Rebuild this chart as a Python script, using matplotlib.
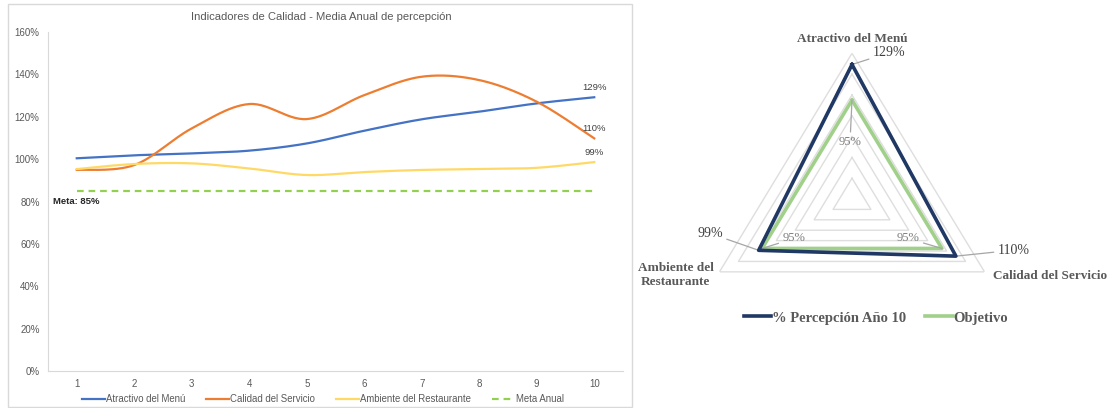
import numpy as np
import matplotlib
matplotlib.use('Agg')
import matplotlib.pyplot as plt
from matplotlib.patches import Rectangle
from matplotlib.ticker import FuncFormatter

# data
years = [1, 2, 3, 4, 5, 6, 7, 8, 9, 10]
atractivo = [1.004, 1.018, 1.027, 1.040, 1.074, 1.134, 1.188, 1.224, 1.263, 1.292]
calidad = [0.949, 0.972, 1.145, 1.260, 1.189, 1.302, 1.389, 1.373, 1.271, 1.098]
ambiente = [0.953, 0.977, 0.980, 0.956, 0.925, 0.939, 0.949, 0.953, 0.959, 0.986]
meta = 0.85

radar_cats = ['Atractivo del Menú', 'Calidad del Servicio', 'Ambiente del\nRestaurante']
radar_actual = [atractivo[-1], calidad[-1], ambiente[-1]]
radar_obj = [0.95, 0.95, 0.95]
radar_rings = [0.2, 0.4, 0.6, 0.8, 1.0, 1.2, 1.4]

W, H = 1120, 408


def fx(px):
    return px / W


def fy(py):
    return 1 - py / H


def excel_smooth(x, y, n=30):
    # bezier smoothing like excel "smoothed line"
    pts = np.column_stack([x, y]).astype(float)
    P = np.vstack([pts[0], pts, pts[-1]])
    out = []
    t = np.linspace(0, 1, n)[:, None]
    for i in range(1, len(P) - 2):
        p0, p1, p2, p3 = P[i - 1], P[i], P[i + 1], P[i + 2]
        c1 = p1 + (p2 - p0) / 6
        c2 = p2 - (p3 - p1) / 6
        seg = (1 - t)**3 * p1 + 3 * (1 - t)**2 * t * c1 + 3 * (1 - t) * t**2 * c2 + t**3 * p2
        out.append(seg if i == 1 else seg[1:])
    return np.vstack(out)


plt.rcParams['font.family'] = ['Liberation Sans', 'DejaVu Sans']
fig = plt.figure(figsize=(11.2, 4.08), dpi=100)

# left chart frame
fig.patches.append(Rectangle((fx(8), fy(407)), fx(632 - 8), (407 - 4) / H,
                             transform=fig.transFigure, fill=False,
                             edgecolor='#D9D9D9', linewidth=1))

ax = fig.add_axes([fx(48), fy(371), fx(623 - 48), (371 - 32) / H])
series = [(atractivo, '#4472C4', 'Atractivo del Menú'),
          (calidad, '#ED7D31', 'Calidad del Servicio'),
          (ambiente, '#FFD966', 'Ambiente del Restaurante')]
for vals, col, lab in series:
    s = excel_smooth(years, vals)
    ax.plot(s[:, 0], s[:, 1], color=col, lw=1.6, label=lab)
    ax.annotate('{:.0%}'.format(vals[-1]), (years[-1], vals[-1]), xytext=(0, 10),
                textcoords='offset pixels', ha='center', va='center',
                fontsize=6.8, color='#404040')
ax.plot(years, [meta] * len(years), color='#92D050', lw=1.6, ls=(0, (3, 2.2)),
        label='Meta Anual')
ax.text(0.58, 0.80, 'Meta: {:.0%}'.format(meta), fontsize=6.8, fontweight='bold',
        color='#262626', ha='left', va='center')

ax.set_xlim(0.5, 10.5)
ax.set_ylim(0, 1.6)
ax.set_xticks(years)
ax.set_yticks(np.arange(0, 1.61, 0.2))
ax.yaxis.set_major_formatter(FuncFormatter(lambda v, p: '{:.0%}'.format(v)))
ax.tick_params(length=0, labelsize=7, colors='#595959', pad=6)
for sp in ['top', 'right']:
    ax.spines[sp].set_visible(False)
for sp in ['left', 'bottom']:
    ax.spines[sp].set_color('#D9D9D9')
fig.text(fx(321), fy(17), 'Indicadores de Calidad - Media Anual de percepción',
         ha='center', va='center', fontsize=8.1, color='#595959')
fig.legend(loc='center', bbox_to_anchor=(fx(323), fy(399)), ncol=4, frameon=False,
           fontsize=6.9, handlelength=2.4, handletextpad=0.1, columnspacing=2.2,
           labelcolor='#595959')

# radar chart
serif = ['Liberation Serif', 'DejaVu Serif']
rx = fig.add_axes([fx(852 - 153), fy(199 + 145.7), fx(306), 291.4 / H], projection='polar')
rx.set_aspect('auto')
rx.set_theta_offset(np.pi / 2)
rx.set_theta_direction(-1)
theta = np.array([0, 2 * np.pi / 3, 4 * np.pi / 3])
tc = np.append(theta, theta[0])
for r in radar_rings:
    rx.plot(tc, [r] * 4, color='#DEDEDE', lw=1, zorder=1)
rx.plot(tc, radar_obj + radar_obj[:1], color='#A0D08A', lw=2.6, zorder=3, label='Objetivo')
rx.plot(tc, radar_actual + radar_actual[:1], color='#1F3864', lw=2.6, zorder=4,
        label='% Percepción Año 10')
rx.set_ylim(0, 1.4)
rx.set_xticks([])
rx.set_yticks([])
rx.grid(False)
rx.spines['polar'].set_visible(False)
rx.patch.set_alpha(0)

lead = dict(arrowstyle='-', color='#A6A6A6', lw=0.9, shrinkA=1, shrinkB=0)
act_off = [((21, 12), 'left'), ((42, 6), 'left'), ((-36, 17), 'right')]
for th, v, (off, ha) in zip(theta, radar_actual, act_off):
    rx.annotate('{:.0%}'.format(v), (th, v), xytext=off, textcoords='offset pixels',
                ha=ha, va='center', fontsize=10, color='#404040', family=serif,
                arrowprops=lead)
obj_off = [(-2, -42), (-34, 10), (32, 10)]
for th, v, off in zip(theta, radar_obj, obj_off):
    rx.annotate('{:.0%}'.format(v), (th, v), xytext=off, textcoords='offset pixels',
                ha='center', va='center', fontsize=9, color='#7F7F7F', family=serif,
                arrowprops=lead)
cat_off = [((0, 14), 'center'), ((8, -4), 'left'), ((-6, -3), 'right')]
for th, lab, (off, ha) in zip(theta, radar_cats, cat_off):
    rx.annotate(lab, (th, 1.4), xytext=off, textcoords='offset pixels', ha=ha,
                va='center', multialignment='center', fontsize=9.5, fontweight='bold',
                color='#595959', family=serif)

h, l = rx.get_legend_handles_labels()
fig.legend(h[::-1], l[::-1], loc='center', bbox_to_anchor=(fx(876), fy(318)), ncol=2,
           frameon=False, prop={'family': serif, 'size': 10.5, 'weight': 'bold'},
           labelcolor='#595959', handlelength=1.9, handletextpad=0.05, columnspacing=1.3)

fig.savefig('out.png', dpi=100)
